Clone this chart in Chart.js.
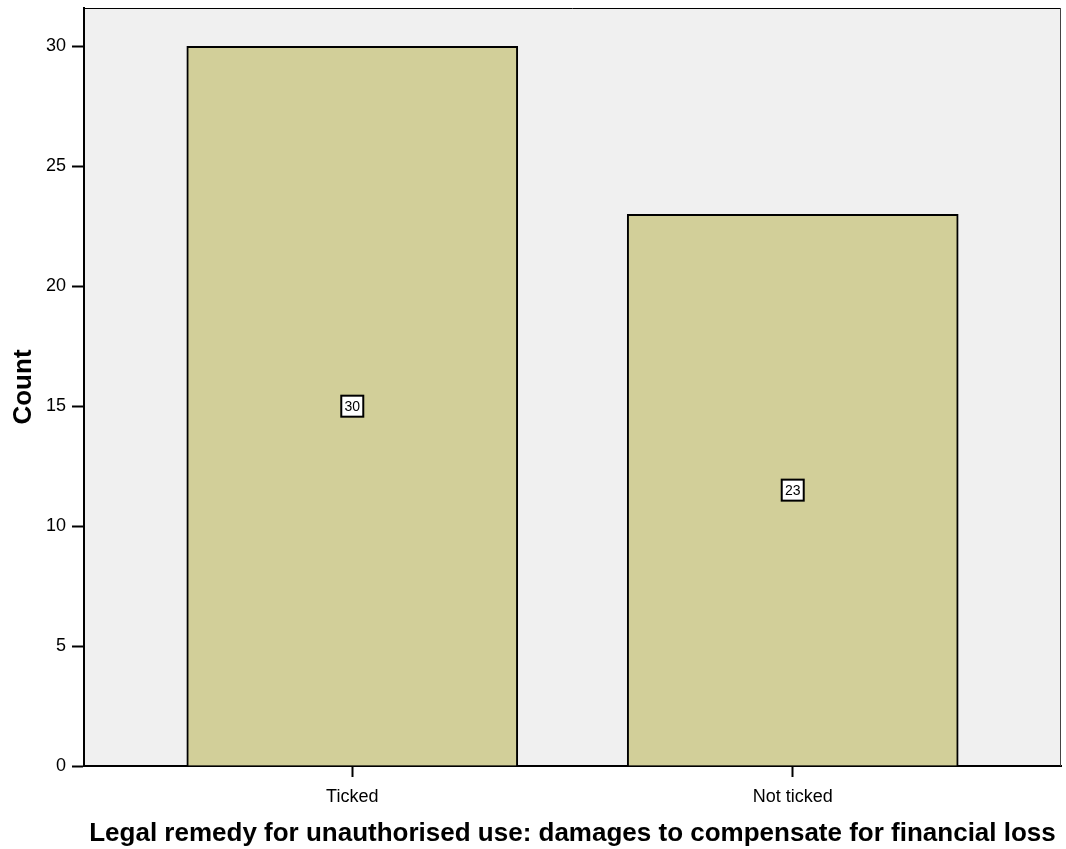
<!DOCTYPE html>
<html lang="en">
<head>
    <meta charset="UTF-8" />
    <title>Legal remedy - damages</title>
    <script src="https://cdn.jsdelivr.net/npm/chart.js"></script>
    <style>
        html, body { margin: 0; padding: 0; background: #fff; }
        #wrap { width: 1066px; height: 849px; }
    </style>
</head>
<body>
    <div id="wrap"><canvas id="chart"></canvas></div>

    <script>
        // data
        const categories = ['Ticked', 'Not ticked'];
        const counts = [30, 23];
        const yTicks = [0, 5, 10, 15, 20, 25, 30];

        const FONT = '"Liberation Sans", Arial, sans-serif';

        // plot background + top/right frame
        const frame = {
            id: 'frame',
            beforeDraw(chart) {
                const { ctx, chartArea: a } = chart;
                ctx.save();
                ctx.fillStyle = '#f0f0f0';
                ctx.fillRect(a.left, a.top, a.right - a.left, a.bottom - a.top);
                ctx.restore();
            },
            afterDraw(chart) {
                const { ctx, chartArea: a } = chart;
                ctx.save();
                ctx.lineWidth = 1;
                ctx.strokeStyle = '#000';
                ctx.beginPath();
                ctx.moveTo(a.left, a.top + 0.5);
                ctx.lineTo(a.right, a.top + 0.5);
                ctx.stroke();
                ctx.strokeStyle = '#444';
                ctx.beginPath();
                ctx.moveTo(a.right - 0.5, a.top);
                ctx.lineTo(a.right - 0.5, a.bottom);
                ctx.stroke();
                ctx.restore();
            }
        };

        // boxed value labels in the middle of each bar
        const boxLabels = {
            id: 'boxLabels',
            afterDatasetsDraw(chart) {
                const { ctx } = chart;
                const x = chart.scales.x, y = chart.scales.y;
                ctx.save();
                ctx.font = '14px ' + FONT;
                ctx.textAlign = 'center';
                ctx.textBaseline = 'middle';
                counts.forEach((v, i) => {
                    const cx = x.getPixelForValue(i + 1);
                    const cy = y.getPixelForValue(v / 2);
                    const w = 22, h = 21;
                    ctx.fillStyle = '#fff';
                    ctx.fillRect(cx - w / 2, cy - h / 2, w, h);
                    ctx.lineWidth = 2;
                    ctx.strokeStyle = '#000';
                    ctx.strokeRect(cx - w / 2, cy - h / 2, w, h);
                    ctx.fillStyle = '#000';
                    ctx.fillText(String(v), cx, cy + 1);
                });
                ctx.restore();
            }
        };

        const ctx = document.getElementById('chart').getContext('2d');
        new Chart(ctx, {
            type: 'bar',
            data: {
                datasets: [{
                    label: 'Count',
                    data: counts.map((v, i) => ({ x: i + 1, y: v })),
                    backgroundColor: '#d2cf99',
                    borderColor: '#000',
                    borderWidth: 2,
                    borderSkipped: 'bottom',
                    barThickness: 331
                }]
            },
            plugins: [frame, boxLabels],
            options: {
                responsive: true,
                maintainAspectRatio: false,
                animation: false,
                layout: { padding: { top: 8, right: 5, left: 0, bottom: 0 } },
                plugins: {
                    legend: { display: false },
                    tooltip: { enabled: false }
                },
                scales: {
                    x: {
                        type: 'linear',
                        offset: false,
                        min: 1 - 268 / 440,
                        max: 2 + 268 / 440,
                        afterFit(s) { s.height = 83; s.paddingLeft = 0; s.paddingRight = 0; },
                        afterBuildTicks(s) { s.ticks = categories.map((c, i) => ({ value: i + 1 })); },
                        ticks: {
                            color: '#000',
                            font: { family: FONT, size: 18 },
                            padding: 9,
                            maxRotation: 0,
                            autoSkip: false,
                            callback: (v) => categories[v - 1] || ''
                        },
                        grid: { display: true, offset: false, drawOnChartArea: false, drawTicks: true, tickLength: 11, tickColor: '#000', tickWidth: 2 },
                        border: { display: true, color: '#000', width: 2 },
                        title: {
                            display: true,
                            text: 'Legal remedy for unauthorised use: damages to compensate for financial loss',
                            color: '#000',
                            font: { family: FONT, size: 26, weight: 'bold' },
                            padding: { top: 0, bottom: 0 }
                        }
                    },
                    y: {
                        min: 0,
                        max: 31.6,
                        afterFit(s) { s.width = 84; s.paddingTop = 0; s.paddingBottom = 0; },
                        afterBuildTicks(s) { s.ticks = yTicks.map(v => ({ value: v })); },
                        ticks: {
                            color: '#000',
                            font: { family: FONT, size: 18 },
                            padding: 6
                        },
                        grid: { display: true, drawOnChartArea: false, drawTicks: true, tickLength: 12, tickColor: '#000', tickWidth: 2 },
                        border: { display: true, color: '#000', width: 2 },
                        title: {
                            display: true,
                            text: 'Count',
                            color: '#000',
                            font: { family: FONT, size: 26, weight: 'bold' },
                            padding: { top: 8, bottom: 0 }
                        }
                    }
                }
            }
        });
    </script>
</body>
</html>
